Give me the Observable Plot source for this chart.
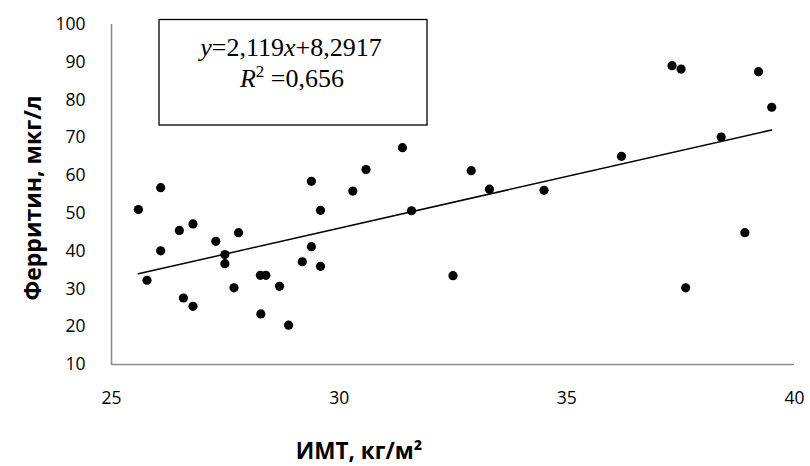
<!DOCTYPE html>
<html>
<head>
<meta charset="utf-8">
<script src="https://cdn.jsdelivr.net/npm/d3@7"></script>
<script src="https://cdn.jsdelivr.net/npm/@observablehq/plot@0.6"></script>
<style>
  html, body { margin: 0; padding: 0; background: #fff; }
  #chart { width: 810px; height: 466px; }
</style>
</head>
<body>
<div id="chart"></div>
<script>
// ---- data ----
const bmi = [
  26.08, 29.39, 30.30, 30.59, 31.39, 25.59, 29.59, 31.59, 26.49, 26.79,
  27.79, 27.29, 26.08, 27.49, 27.49, 29.39, 29.19, 29.59, 25.78, 28.27,
  28.39, 27.69, 28.69, 26.58, 26.79, 28.28, 28.89, 32.90, 33.30, 34.50,
  36.20, 37.31, 37.51, 39.21, 39.50, 38.39, 32.50, 37.61, 38.91
];
const ferritin = [
  56.8, 58.5, 55.9, 61.6, 67.4, 51.0, 50.8, 50.7, 45.5, 47.2,
  44.9, 42.6, 40.1, 39.1, 36.7, 41.2, 37.2, 36.0, 32.3, 33.6,
  33.6, 30.3, 30.7, 27.6, 25.4, 23.4, 20.4, 61.3, 56.4, 56.1,
  65.1, 89.1, 88.2, 87.5, 78.1, 70.2, 33.5, 30.3, 44.9
];
const trendX = [25.59, 39.50];
const trendY = [34.0, 72.1];
const xTicks = [25, 30, 35, 40];
const yTicks = [10, 20, 30, 40, 50, 60, 70, 80, 90, 100];
const xTitle = "ИМТ, кг/м²";
const yTitle = "Ферритин, мкг/л";
const eqSlope = "2,119";
const eqIntercept = "8,2917";
const r2Value = "0,656";

const points = bmi.map((b, i) => ({bmi: b, ferritin: ferritin[i]}));
const trend = trendX.map((t, i) => ({x: t, y: trendY[i]}));

const chart = Plot.plot({
  width: 810,
  height: 466,
  marginLeft: 111,
  marginRight: 16,
  marginTop: 24,
  marginBottom: 102,
  style: {fontFamily: "'Open Sans', sans-serif", fontSize: "17px", color: "#000", background: "#fff"},
  x: {domain: [25, 40]},
  y: {domain: [10, 100]},
  marks: [
    Plot.ruleY([10], {stroke: "#8c8c8c", strokeWidth: 1.6}),
    Plot.ruleX([25], {stroke: "#8c8c8c", strokeWidth: 1.6}),
    Plot.axisX(xTicks, {tickSize: 0, tickPadding: 27, label: null, fontSize: 17.5, fill: "#000"}),
    Plot.axisY(yTicks, {tickSize: 0, tickPadding: 26, label: null, fontSize: 17.5, fill: "#000"}),
    Plot.line(trend, {x: "x", y: "y", stroke: "#000", strokeWidth: 1.5}),
    Plot.dot(points, {x: "bmi", y: "ferritin", r: 4.6, fill: "#000", stroke: "none"})
  ]
});

document.getElementById("chart").appendChild(chart);

const svg = d3.select(chart);

// axis titles
svg.append("text")
  .attr("x", 359).attr("y", 459)
  .attr("text-anchor", "middle")
  .style("font-family", "'Open Sans', sans-serif")
  .style("font-weight", "bold").style("font-size", "22.5px")
  .attr("fill", "#000")
  .text(xTitle);

svg.append("text")
  .attr("transform", "translate(41,198) rotate(-90)")
  .attr("text-anchor", "middle")
  .style("font-family", "'Open Sans', sans-serif")
  .style("font-weight", "bold").style("font-size", "23px")
  .attr("fill", "#000")
  .text(yTitle);

// regression equation box
svg.append("rect")
  .attr("x", 159).attr("y", 19.5).attr("width", 268).attr("height", 105.5)
  .attr("fill", "#fff").attr("stroke", "#000").attr("stroke-width", 1.3);

const eq = svg.append("text")
  .attr("x", 291).attr("y", 56)
  .attr("text-anchor", "middle")
  .style("font-family", "'Liberation Serif', 'Times New Roman', serif")
  .style("font-size", "26px")
  .attr("fill", "#000");
eq.append("tspan").style("font-style", "italic").text("y");
eq.append("tspan").text("=" + eqSlope);
eq.append("tspan").style("font-style", "italic").text("x");
eq.append("tspan").text("+" + eqIntercept);

const r2 = svg.append("text")
  .attr("x", 292).attr("y", 87)
  .attr("text-anchor", "middle")
  .style("font-family", "'Liberation Serif', 'Times New Roman', serif")
  .style("font-size", "26px")
  .attr("fill", "#000");
r2.append("tspan").style("font-style", "italic").text("R");
r2.append("tspan").attr("dy", -10).style("font-size", "17px").text("2");
r2.append("tspan").attr("dy", 10).text(" =" + r2Value);
</script>
</body>
</html>
